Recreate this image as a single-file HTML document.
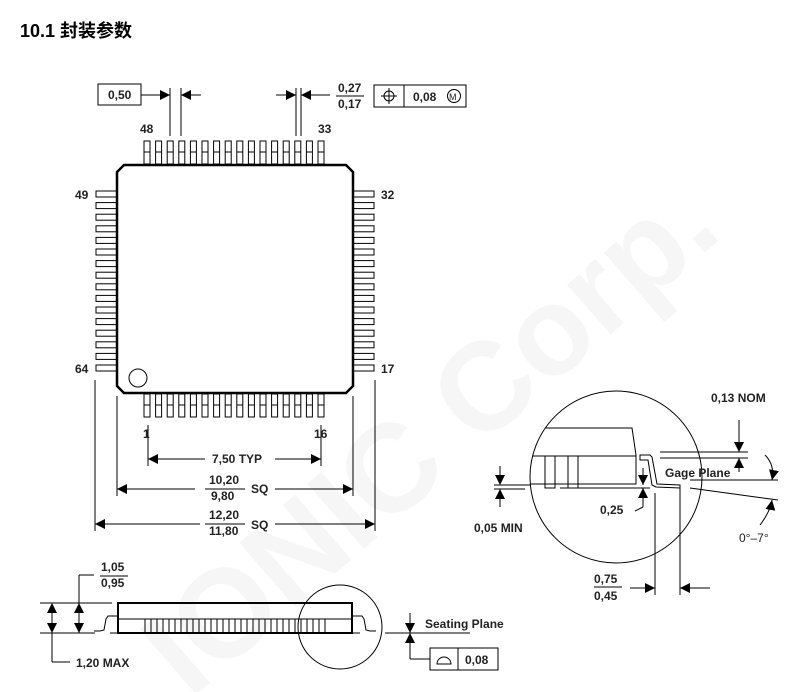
<!DOCTYPE html>
<html><head><meta charset="utf-8"><style>
body{margin:0;background:#fff;}
svg{display:block;font-family:"Liberation Sans",Arial,sans-serif;}
text{font-weight:bold;font-size:12px;fill:#222;}
</style></head><body>
<svg width="800" height="692" viewBox="0 0 800 692" xmlns="http://www.w3.org/2000/svg">
<defs>
<marker id="a" viewBox="0 0 10 10" refX="10" refY="5" markerWidth="10" markerHeight="10" orient="auto-start-reverse" markerUnits="userSpaceOnUse"><path d="M0,0 L10,5 L0,10z" fill="#000"/></marker>
<clipPath id="cc"><circle cx="616" cy="477" r="86"/></clipPath>
</defs>
<text x="190" y="700" transform="rotate(-41 190 700)" style="font-size:125px;fill:#f6f6f6;font-weight:bold">IONIC Corp.</text>
<text x="20" y="37" style="font-size:18px;font-family:'Liberation Sans','Noto Sans CJK SC',sans-serif;fill:#000">10.1 封装参数</text>
<g stroke="#000" fill="none" stroke-width="1">
<g id="tp">
<rect x="144" y="141" width="6" height="23"/><rect x="155.6" y="141" width="6" height="23"/><rect x="167.2" y="141" width="6" height="23"/><rect x="178.8" y="141" width="6" height="23"/><rect x="190.4" y="141" width="6" height="23"/><rect x="202" y="141" width="6" height="23"/><rect x="213.6" y="141" width="6" height="23"/><rect x="225.2" y="141" width="6" height="23"/><rect x="236.8" y="141" width="6" height="23"/><rect x="248.4" y="141" width="6" height="23"/><rect x="260" y="141" width="6" height="23"/><rect x="271.6" y="141" width="6" height="23"/><rect x="283.2" y="141" width="6" height="23"/><rect x="294.8" y="141" width="6" height="23"/><rect x="306.4" y="141" width="6" height="23"/><rect x="318" y="141" width="6" height="23"/>
<line x1="144" y1="152" x2="324" y2="152" stroke-dasharray="6 5.6"/>
</g>
<use href="#tp" transform="translate(0,253)"/>
<g id="lp">
<rect x="96" y="191" width="21" height="6"/><rect x="96" y="202.6" width="21" height="6"/><rect x="96" y="214.2" width="21" height="6"/><rect x="96" y="225.8" width="21" height="6"/><rect x="96" y="237.4" width="21" height="6"/><rect x="96" y="249" width="21" height="6"/><rect x="96" y="260.6" width="21" height="6"/><rect x="96" y="272.2" width="21" height="6"/><rect x="96" y="283.8" width="21" height="6"/><rect x="96" y="295.4" width="21" height="6"/><rect x="96" y="307" width="21" height="6"/><rect x="96" y="318.6" width="21" height="6"/><rect x="96" y="330.2" width="21" height="6"/><rect x="96" y="341.8" width="21" height="6"/><rect x="96" y="353.4" width="21" height="6"/><rect x="96" y="365" width="21" height="6"/>
</g>
<use href="#lp" transform="translate(257,0)"/>
<path d="M124,165 L346,165 L353,172 L353,386 L346,393 L124,393 L117,386 L117,172 Z" stroke-width="2.5" fill="#fff"/>
<circle cx="138" cy="378" r="9"/>
<line x1="170" y1="88" x2="170" y2="136"/><line x1="181" y1="88" x2="181" y2="136"/>
<line x1="141" y1="95" x2="170" y2="95" marker-end="url(#a)"/><line x1="201" y1="95" x2="181" y2="95" marker-end="url(#a)"/>
<rect x="98" y="84" width="43" height="21"/>
<line x1="296" y1="88" x2="296" y2="136"/><line x1="301" y1="88" x2="301" y2="136"/>
<line x1="276" y1="95" x2="296" y2="95" marker-end="url(#a)"/><line x1="330" y1="95" x2="301" y2="95" marker-end="url(#a)"/>
<line x1="336" y1="96" x2="364" y2="96"/>
<rect x="374" y="85" width="92" height="22"/><line x1="404" y1="85" x2="404" y2="107"/>
<circle cx="389" cy="96" r="5"/><line x1="381" y1="96" x2="397" y2="96"/><line x1="389" y1="88" x2="389" y2="104"/>
<circle cx="454" cy="96" r="6.5"/>
<line x1="148" y1="425" x2="148" y2="466"/><line x1="321" y1="425" x2="321" y2="466"/>
<line x1="205" y1="459" x2="148" y2="459" marker-end="url(#a)"/><line x1="275" y1="459" x2="321" y2="459" marker-end="url(#a)"/>
<line x1="117" y1="396" x2="117" y2="496"/><line x1="353" y1="396" x2="353" y2="496"/>
<line x1="195" y1="489" x2="117" y2="489" marker-end="url(#a)"/><line x1="275" y1="489" x2="353" y2="489" marker-end="url(#a)"/>
<line x1="205" y1="489" x2="245" y2="489"/>
<line x1="95" y1="380" x2="95" y2="531"/><line x1="375" y1="380" x2="375" y2="531"/>
<line x1="200" y1="524" x2="95" y2="524" marker-end="url(#a)"/><line x1="275" y1="524" x2="375" y2="524" marker-end="url(#a)"/>
<line x1="205" y1="524" x2="245" y2="524"/>
<rect x="118" y="603" width="234" height="30" stroke-width="2"/>
<line x1="118" y1="619" x2="352" y2="619"/>
<path d="M145,619 V633 M151,619 V633 M157,619 V633 M163,619 V633 M169,619 V633 M175,619 V633 M181,619 V633 M187,619 V633 M193,619 V633 M199,619 V633 M205,619 V633 M211,619 V633 M217,619 V633 M223,619 V633 M229,619 V633 M235,619 V633 M241,619 V633 M247,619 V633 M253,619 V633 M259,619 V633 M265,619 V633 M271,619 V633 M277,619 V633 M283,619 V633 M289,619 V633 M295,619 V633 M301,619 V633 M307,619 V633 M313,619 V633 M319,619 V633 M325,619 V633"/>
<path d="M118,616 L108,616 L106,619 L104,630 L100,631 L94,631"/>
<path d="M352,616 L362,616 L364,619 L366,630 L370,631 L376,631"/>
<line x1="40" y1="603" x2="112" y2="603"/>
<line x1="40" y1="633" x2="95" y2="633"/><line x1="110" y1="633" x2="118" y2="633"/><line x1="352" y1="633" x2="360" y2="633"/><line x1="385" y1="633" x2="470" y2="633"/>
<line x1="52" y1="603" x2="52" y2="662"/><line x1="52" y1="618" x2="52" y2="603" marker-end="url(#a)"/><line x1="52" y1="618" x2="52" y2="633" marker-end="url(#a)"/>
<line x1="52" y1="662" x2="70" y2="662"/>
<line x1="79" y1="618" x2="79" y2="603" marker-end="url(#a)"/><line x1="79" y1="618" x2="79" y2="633" marker-end="url(#a)"/>
<line x1="79" y1="603" x2="79" y2="575"/><line x1="79" y1="575" x2="94" y2="575"/>
<line x1="100" y1="576" x2="128" y2="576"/>
<circle cx="340" cy="627" r="42"/>
<line x1="410" y1="613" x2="410" y2="633" marker-end="url(#a)"/><line x1="410" y1="648" x2="410" y2="633" marker-end="url(#a)"/>
<line x1="410" y1="648" x2="410" y2="659"/><line x1="410" y1="659" x2="430" y2="659"/>
<rect x="430" y="648" width="68" height="22"/><line x1="458" y1="648" x2="458" y2="670"/>
<path d="M437,664 A7,7 0 0 1 451,664 Z"/>
<g clip-path="url(#cc)">
<path d="M500,428 L632,428 L636,455 L636,484 L500,484"/>
<line x1="500" y1="456" x2="636" y2="456"/>
<path d="M545,456 V484 M555,456 V484 M568,456 V484 M578,456 V484"/>
<path d="M545,484 V488 H555 V484 M568,484 V488 H578 V484"/>
<path d="M640,455 L650,455 L652,457 L657,484 L680,485 L680,488 L656,487 L652,485 L648,460 L640,460 Z"/>
<line x1="560" y1="488" x2="650" y2="488"/>
</g>
<circle cx="616" cy="477" r="86"/>
<line x1="494" y1="485" x2="530" y2="485"/><line x1="494" y1="489" x2="525" y2="489"/>
<line x1="500" y1="466" x2="500" y2="485" marker-end="url(#a)"/><line x1="500" y1="507" x2="500" y2="489" marker-end="url(#a)"/>
<line x1="643" y1="468" x2="643" y2="485" marker-end="url(#a)"/><line x1="643" y1="507" x2="643" y2="488" marker-end="url(#a)"/>
<line x1="643" y1="507" x2="635" y2="511"/>
<line x1="660" y1="452" x2="748" y2="452"/><line x1="660" y1="458" x2="748" y2="458"/>
<line x1="739" y1="420" x2="739" y2="452" marker-end="url(#a)"/><line x1="739" y1="472" x2="739" y2="458" marker-end="url(#a)"/>
<line x1="690" y1="480" x2="778" y2="480"/><line x1="690" y1="488" x2="778" y2="500"/>
<path d="M765,455 Q775,465 772,480" marker-end="url(#a)"/><path d="M760,525 Q770,512 772,500" marker-end="url(#a)"/>
<line x1="655" y1="493" x2="655" y2="595"/><line x1="680" y1="487" x2="680" y2="595"/>
<line x1="630" y1="588" x2="655" y2="588" marker-end="url(#a)"/><line x1="710" y1="588" x2="680" y2="588" marker-end="url(#a)"/>
<line x1="594" y1="587" x2="622" y2="587"/>
</g>
<text x="108" y="99">0,50</text>
<text x="338" y="92">0,27</text><text x="338" y="108">0,17</text>
<text x="413" y="101">0,08</text>
<text x="449" y="100" style="font-size:9px;font-weight:normal">M</text>
<text x="140" y="133">48</text><text x="318" y="133">33</text>
<text x="75" y="199">49</text><text x="381" y="199">32</text>
<text x="75" y="373">64</text><text x="381" y="373">17</text>
<text x="143" y="438">1</text><text x="314" y="438">16</text>
<text x="212" y="463">7,50 TYP</text>
<text x="209" y="484">10,20</text><text x="211" y="500">9,80</text><text x="251" y="493">SQ</text>
<text x="209" y="519">12,20</text><text x="209" y="535">11,80</text><text x="251" y="529">SQ</text>
<text x="101" y="571">1,05</text><text x="101" y="587">0,95</text>
<text x="76" y="667">1,20 MAX</text>
<text x="425" y="628">Seating Plane</text>
<text x="465" y="664">0,08</text>
<text x="711" y="402">0,13 NOM</text>
<text x="665" y="477">Gage Plane</text>
<text x="474" y="532">0,05 MIN</text>
<text x="600" y="514">0,25</text>
<text x="739" y="542" style="font-weight:normal">0°–7°</text>
<text x="594" y="583">0,75</text><text x="594" y="600">0,45</text>
</svg>
</body></html>
